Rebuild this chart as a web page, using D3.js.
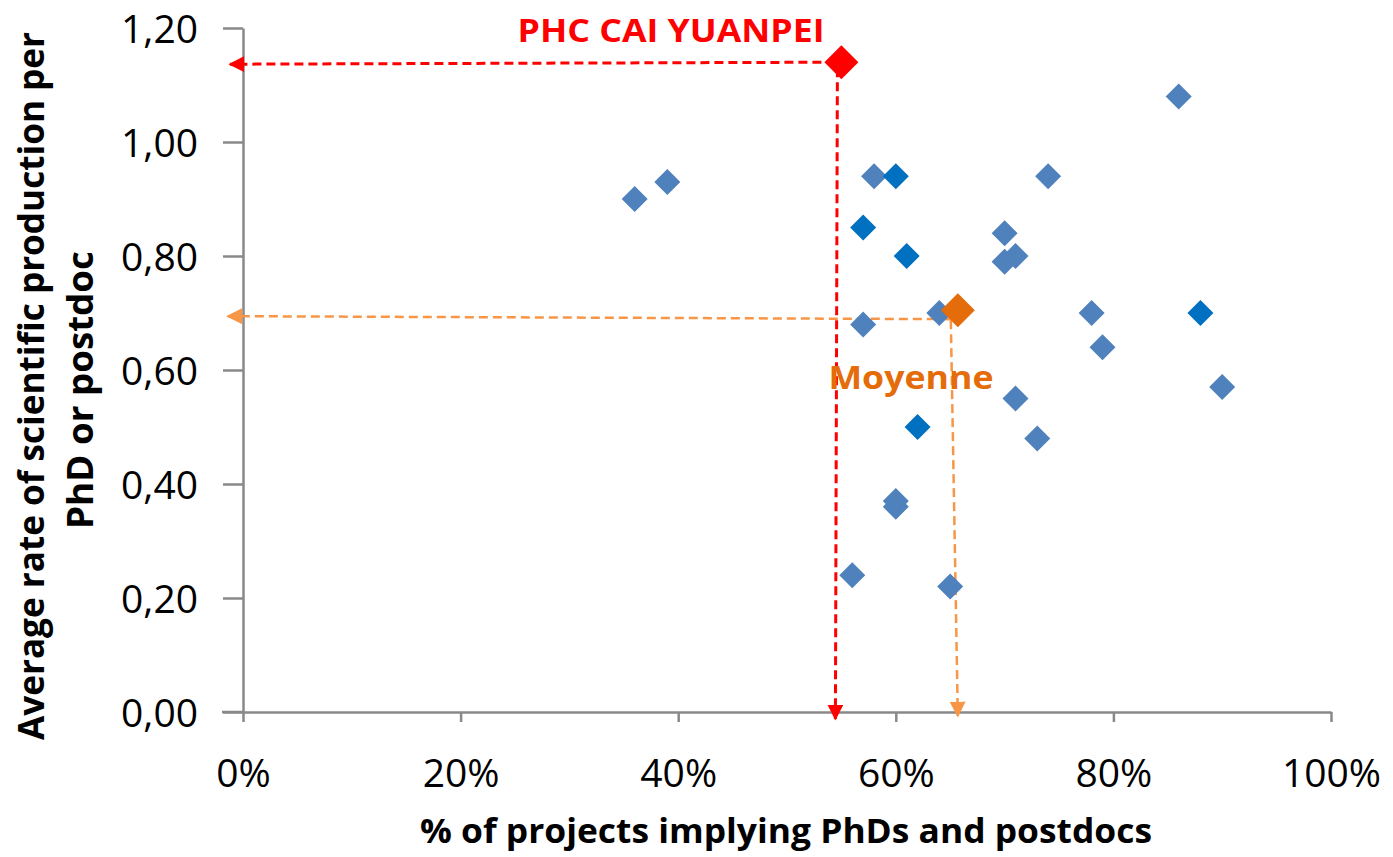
<!DOCTYPE html>
<html><head><meta charset="utf-8">
<script src="https://cdn.jsdelivr.net/npm/d3@7"></script>
<style>body{margin:0;background:#fff}svg{display:block}text{font-family:"Open Sans","Noto Sans",sans-serif}</style>
</head><body>
<svg id="c" width="1393" height="857"></svg>
<script>
// Data
const projX = [36,39,56,57,57,58,60,61,60,60,62,64,65,70,70,71,71,73,74,78,79,86,88,90];
const projY = [0.90,0.93,0.24,0.85,0.68,0.94,0.94,0.80,0.37,0.36,0.50,0.70,0.22,0.84,0.79,0.80,0.55,0.48,0.94,0.70,0.64,1.08,0.70,0.57];
const projDark = [0,0,0,1,0,0,1,1,0,0,1,0,0,0,0,0,0,0,0,0,0,0,1,0];
const phc = {name:"PHC CAI YUANPEI", x:55, y:1.14};
const avg = {name:"Moyenne", x:65.7, y:0.705};
const xTicks = [0,20,40,60,80,100];
const yTicks = [0,0.2,0.4,0.6,0.8,1.0,1.2];
const xTitle = "% of projects implying PhDs and postdocs";
const yTitle = ["Average rate of scientific production per","PhD or postdoc"];

const svg = d3.select("#c");
const x = d3.scaleLinear().domain([0,100]).range([243,1331]);
const y = d3.scaleLinear().domain([0,1.2]).range([712,28]);
const axisCol = "#898989";

// axes
const gx = svg.append("g").attr("transform","translate(0,712)")
  .call(d3.axisBottom(x).tickValues(xTicks).tickSize(10).tickSizeOuter(0).tickFormat(d=>d+"%"));
const gy = svg.append("g").attr("transform","translate(243,0)")
  .call(d3.axisLeft(y).tickValues(yTicks).tickSize(20).tickSizeOuter(0).tickFormat(d=>d3.format(".2f")(d).replace(".",",")));
[gx,gy].forEach(g=>{
  g.select(".domain").attr("stroke",axisCol).attr("stroke-width",2.5);
  g.selectAll(".tick line").attr("stroke",axisCol).attr("stroke-width",2.5);
  g.selectAll(".tick text").attr("fill","#000").attr("font-size",39).attr("font-family","'Open Sans',sans-serif");
});
gx.selectAll(".tick text").attr("dy",0).attr("y",75);
gy.selectAll(".tick text").attr("x",-45).attr("dy","0.36em");
svg.append("line").attr("x1",222).attr("x2",243).attr("y1",712).attr("y2",712).attr("stroke",axisCol).attr("stroke-width",2.5);

// titles
svg.append("text").attr("x",786).attr("y",843).attr("text-anchor","middle").attr("font-weight","bold")
  .attr("font-size",34).attr("textLength",732).attr("lengthAdjust","spacingAndGlyphs").text(xTitle);
svg.append("text").attr("transform","translate(44,386) rotate(-90)").attr("text-anchor","middle").attr("font-weight","bold")
  .attr("font-size",35).attr("textLength",708).attr("lengthAdjust","spacingAndGlyphs").text(yTitle[0]);
svg.append("text").attr("transform","translate(93,390) rotate(-90)").attr("text-anchor","middle").attr("font-weight","bold")
  .attr("font-size",35).attr("textLength",278).attr("lengthAdjust","spacingAndGlyphs").text(yTitle[1]);

// arrow markers
const defs = svg.append("defs");
function mk(id,col){
  defs.append("marker").attr("id",id).attr("viewBox","0 0 10 10").attr("refX",9).attr("refY",5)
    .attr("orient","auto-start-reverse").attr("markerUnits","userSpaceOnUse")
    .attr("markerWidth",16).attr("markerHeight",16)
    .append("path").attr("d","M0,0L10,5L0,10Z").attr("fill",col);
}
mk("ar","#FF0000"); mk("ao","#F79646");

// red guides
svg.append("line").attr("x1",x(phc.x)-6).attr("y1",y(phc.y)).attr("x2",x(-1.2)).attr("y2",y(phc.y)+2)
  .attr("stroke","#FF0000").attr("stroke-width",3).attr("stroke-dasharray","9,5").attr("marker-end","url(#ar)");
svg.append("line").attr("x1",x(phc.x)-4).attr("y1",y(phc.y)+6).attr("x2",x(phc.x)-6).attr("y2",y(0)+7)
  .attr("stroke","#FF0000").attr("stroke-width",3).attr("stroke-dasharray","9,5").attr("marker-end","url(#ar)");
// orange guides
svg.append("line").attr("x1",x(avg.x)-8).attr("y1",y(avg.y)+9).attr("x2",x(-1.4)).attr("y2",y(avg.y)+6)
  .attr("stroke","#F79646").attr("stroke-width",2.5).attr("stroke-dasharray","9,5").attr("marker-end","url(#ao)");
svg.append("line").attr("x1",x(avg.x)-7).attr("y1",y(avg.y)+10).attr("x2",x(avg.x)).attr("y2",y(0)+4)
  .attr("stroke","#F79646").attr("stroke-width",2.5).attr("stroke-dasharray","9,5").attr("marker-end","url(#ao)");

// points
const sym = d3.symbol().type(d3.symbolSquare);
svg.append("g").selectAll("path").data(projX.map((v,i)=>({x:v,y:projY[i],d:projDark[i]}))).join("path")
  .attr("d",sym.size(2*13*13)())
  .attr("transform",d=>`translate(${x(d.x)},${y(d.y)}) rotate(45)`)
  .attr("fill",d=>d.d?"#0070C0":"#4F81BD");
svg.append("path").attr("d",sym.size(2*17*17)()).attr("transform",`translate(${x(avg.x)},${y(avg.y)}) rotate(45)`).attr("fill","#E46C0A");
svg.append("path").attr("d",sym.size(2*17*17)()).attr("transform",`translate(${x(phc.x)},${y(phc.y)}) rotate(45)`).attr("fill","#FF0000");

// labels
svg.append("text").attr("x",671).attr("y",42).attr("text-anchor","middle").attr("font-weight","bold").attr("font-size",32)
  .attr("fill","#FF0000").attr("textLength",307).attr("lengthAdjust","spacingAndGlyphs").text(phc.name);
svg.append("text").attr("x",911).attr("y",389).attr("text-anchor","middle").attr("font-weight","bold").attr("font-size",32)
  .attr("fill","#E46C0A").attr("textLength",165).attr("lengthAdjust","spacingAndGlyphs").text(avg.name);
</script>
</body></html>
